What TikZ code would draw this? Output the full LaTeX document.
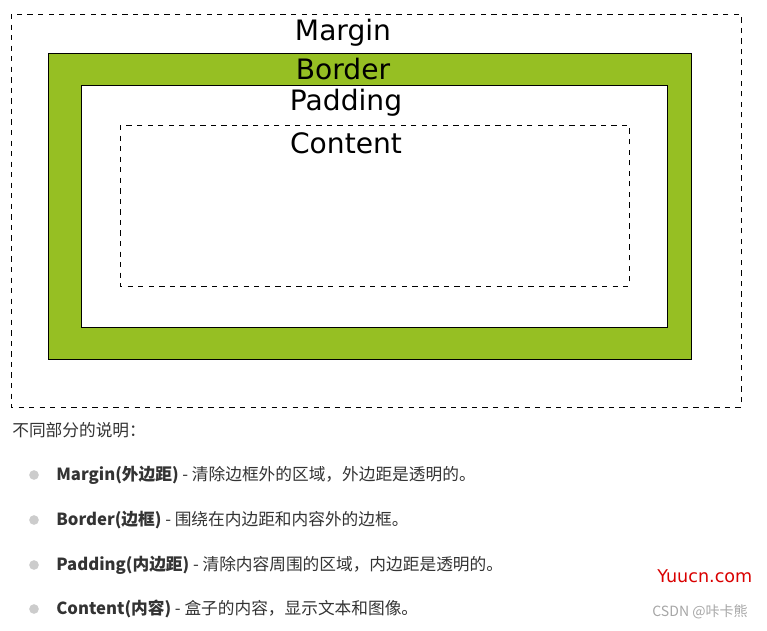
\documentclass[tikz,border=0pt]{standalone}
\usepackage{fontspec}
\setmainfont{DejaVu Sans}
\newfontfamily\cjk{Noto Sans CJK SC}
\definecolor{bordergreen}{RGB}{150,191,35}
\definecolor{bodytext}{RGB}{51,51,51}
\begin{document}
\begin{tikzpicture}[x=0.02cm,y=-0.02cm,
  boxlabel/.style={font=\fontsize{16}{18}\selectfont},
  desc/.style={anchor=west,inner sep=0,text=bodytext,font=\cjk\fontsize{9.5}{11}\selectfont},
  dot/.style={circle,fill=gray!40,inner sep=0,minimum size=5.5pt}]
\useasboundingbox (0,0) rectangle (767,630);

% box model
\draw[dashed] (11,14) rectangle (741,407);
\draw[fill=bordergreen] (48,53) rectangle (691,359);
\draw[fill=white] (81,85) rectangle (667,327);
\draw[dashed] (120,125) rectangle (629,286);
\node[boxlabel] (margin) at (343,33) {Margin};
\node[boxlabel] (border) at (343,69) {Border};
\node[boxlabel] (padding) at (346,103) {Padding};
\node[boxlabel] (content) at (346,143) {Content};

% description
\node[desc] (intro) at (12,430) {不同部分的说明：};
\node[dot] (d1) at (34,475) {};
\node[desc] (t1) at (56,475) {\textbf{Margin(外边距)} - 清除边框外的区域，外边距是透明的。};
\node[dot] (d2) at (34,520) {};
\node[desc] (t2) at (56,520) {\textbf{Border(边框)} - 围绕在内边距和内容外的边框。};
\node[dot] (d3) at (34,565) {};
\node[desc] (t3) at (56,565) {\textbf{Padding(内边距)} - 清除内容周围的区域，内边距是透明的。};
\node[dot] (d4) at (34,609) {};
\node[desc] (t4) at (56,609) {\textbf{Content(内容)} - 盒子的内容，显示文本和图像。};

% watermarks
\node[anchor=west,inner sep=0,text=red!85!black,font=\fontsize{10}{12}\selectfont] (wm1) at (657,576) {Yuucn.com};
\node[anchor=west,inner sep=0,text=gray!70,font=\cjk\fontsize{8}{10}\selectfont] (wm2) at (652,612) {CSDN @咔卡熊};
\end{tikzpicture}
\end{document}
